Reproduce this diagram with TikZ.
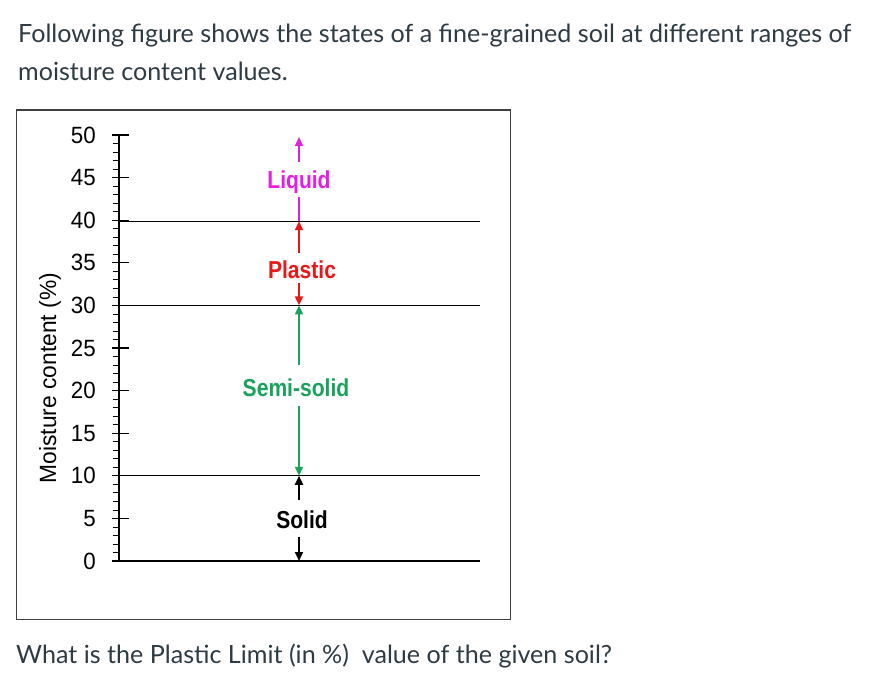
\documentclass[tikz,border=0pt]{standalone}
\usepackage{fontspec}
\setmainfont{Lato}
\newfontfamily\plotfont{Liberation Sans}
\usetikzlibrary{arrows.meta}
\definecolor{txt}{HTML}{2D3B45}
\definecolor{liq}{RGB}{228,30,228}
\definecolor{pla}{RGB}{232,24,24}
\definecolor{semi}{RGB}{24,162,92}
\tikzset{
  para/.style={anchor=base west, inner sep=0pt, text=txt, font=\fontsize{25.1}{30}\selectfont},
  num/.style={anchor=east, inner sep=0pt, xscale=0.95, font=\plotfont\fontsize{23.5}{26}\selectfont},
  statelabel/.style={anchor=base, inner sep=0pt, xscale=0.86, font=\plotfont\bfseries\fontsize{24.5}{28}\selectfont},
  limitline/.style={line width=1.1pt, black},
  statearrow/.style={line width=1.8pt, -{Triangle[length=9pt,width=8pt]}},
}
\begin{document}
\begin{tikzpicture}[x=1pt,y=-1pt]
\useasboundingbox (0,0) rectangle (880,679);
\fill[white] (0,0) rectangle (880,679);
% text
\node[para] (l1) at (18,43) {Following figure shows the states of a fine-grained soil at different ranges of};
\node[para] (l2) at (18,81) {moisture content values.};
\node[para] (q) at (16,663) {What is the Plastic Limit (in \%)\ \ value of the given soil?};
% frame
\node[draw=black!75, line width=1.2pt, minimum width=494pt, minimum height=509pt, inner sep=0pt, anchor=north west] (frame) at (16,109.5) {};
% axis: 0 -> 561, 50 -> 135
\coordinate (a0) at (119,561);
\coordinate (a50) at (119,135);
\draw[line width=1.3pt] (a0) -- (a50);
\foreach \v in {0,1,...,50}{
  \draw[line width=0.75pt] (113,{561-8.52*\v}) -- (119,{561-8.52*\v});
}
\foreach \v in {0,5,...,50}{
  \draw[line width=1.1pt] (112,{561-8.52*\v}) -- (129,{561-8.52*\v});
  \node[num] (n\v) at (96,{561-8.52*\v}) {\v};
}
\node[rotate=90, anchor=base, xscale=0.97, font=\plotfont\fontsize{23.5}{26}\selectfont, inner sep=0pt] (ylab) at (56,378) {Moisture content (\%)};
% limit lines
\coordinate (ll40) at (119,221.2);
\coordinate (lr40) at (480,221.2);
\coordinate (ll30) at (119,305.4);
\coordinate (lr30) at (480,305.4);
\coordinate (ll10) at (119,475.8);
\coordinate (lr10) at (480,475.8);
\coordinate (lr0) at (480,561);
\draw[limitline] (ll40) -- (lr40);
\draw[limitline] (ll30) -- (lr30);
\draw[limitline] (ll10) -- (lr10);
\draw[limitline] (a0) -- (lr0);
% states
\coordinate (c50) at (299,137);
\coordinate (c40) at (299,221.2);
\coordinate (c30) at (299,305.4);
\coordinate (c10) at (299,475.8);
\coordinate (c0) at (299,561);
\node[statelabel, text=liq] (liquid) at (299,189) {Liquid};
\node[statelabel, text=pla] (plastic) at (302,278) {Plastic};
\node[statelabel, text=semi] (semisolid) at (296,396.5) {Semi-solid};
\node[statelabel, text=black] (solid) at (302,528) {Solid};
\draw[statearrow, liq] (299,162) -- (c50);
\draw[line width=1.8pt, liq] (299,197) -- (c40);
\draw[statearrow, pla] (299,253) -- (c40);
\draw[statearrow, pla] (299,283) -- (c30);
\draw[statearrow, semi] (299,365) -- (c30);
\draw[statearrow, semi] (299,406) -- (c10);
\draw[statearrow, black] (299,500) -- (c10);
\draw[statearrow, black] (299,537) -- (c0);
\end{tikzpicture}
\end{document}
